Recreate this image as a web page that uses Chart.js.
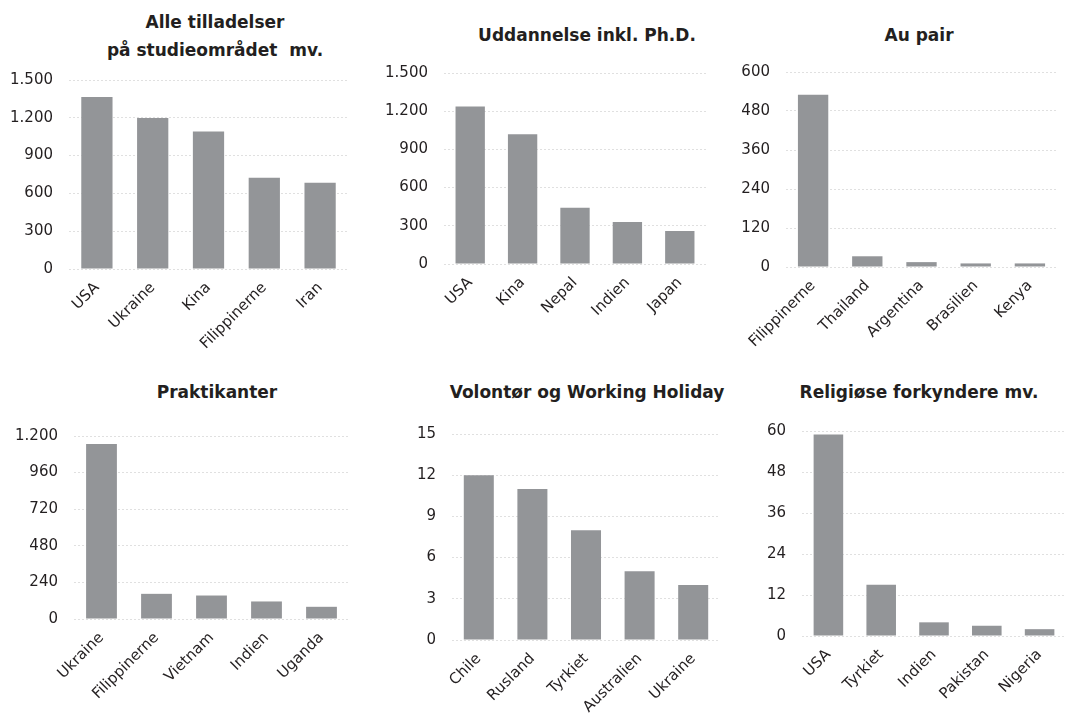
<!DOCTYPE html>
<html>
<head>
<meta charset="utf-8">
<script src="https://cdn.jsdelivr.net/npm/chart.js@4"></script>
<style>
  body { margin: 0; background: #fff; width: 1066px; height: 717px; position: relative; overflow: hidden; font-family: "DejaVu Sans", sans-serif; }
  canvas { position: absolute; }
  .title { position: absolute; text-align: center; font-weight: bold; font-size: 17px; line-height: 28px; color: #231f20; white-space: pre; }
</style>
</head>
<body>
<div class="title" style="left:0;top:8px;width:430px;">Alle tilladelser
på studieområdet  mv.</div>
<div class="title" style="left:437px;top:21px;width:300px;">Uddannelse inkl. Ph.D.</div>
<div class="title" style="left:769px;top:21px;width:300px;">Au pair</div>
<div class="title" style="left:67px;top:378px;width:300px;">Praktikanter</div>
<div class="title" style="left:437px;top:378px;width:300px;">Volontør og Working Holiday</div>
<div class="title" style="left:769px;top:378px;width:300px;">Religiøse forkyndere mv.</div>

<canvas id="c1" width="360" height="300" style="left:0;top:55px"></canvas>
<canvas id="c2" width="355" height="300" style="left:360px;top:48px"></canvas>
<canvas id="c3" width="351" height="300" style="left:715px;top:47px"></canvas>
<canvas id="c4" width="360" height="306" style="left:0;top:411px"></canvas>
<canvas id="c5" width="362" height="308" style="left:360px;top:409px"></canvas>
<canvas id="c6" width="341" height="311" style="left:725px;top:406px"></canvas>

<script>
// data
const alleLabels = ['USA', 'Ukraine', 'Kina', 'Filippinerne', 'Iran'];
const alleValues = [1365, 1198, 1091, 725, 685];

const uddLabels = ['USA', 'Kina', 'Nepal', 'Indien', 'Japan'];
const uddValues = [1237, 1018, 442, 330, 260];

const auPairLabels = ['Filippinerne', 'Thailand', 'Argentina', 'Brasilien', 'Kenya'];
const auPairValues = [530, 33, 15, 11, 11];

const praktLabels = ['Ukraine', 'Filippinerne', 'Vietnam', 'Indien', 'Uganda'];
const praktValues = [1148, 165, 154, 115, 80];

const volLabels = ['Chile', 'Rusland', 'Tyrkiet', 'Australien', 'Ukraine'];
const volValues = [12, 11, 8, 5, 4];

const relLabels = ['USA', 'Tyrkiet', 'Indien', 'Pakistan', 'Nigeria'];
const relValues = [59, 15, 4, 3, 2];

// y axis max and step per chart
const yMax = [1500, 1500, 600, 1200, 15, 60];
const yStep = [300, 300, 120, 240, 3, 12];

// plot area fitting inside each canvas: [yAxisWidth, padRight, xAxisHeight]
const fits = [
    [69, 12, 86],
    [84, 9, 84],
    [71, 9, 80],
    [74, 11, 98],
    [92, 2, 77],
    [77, 0, 81]
];

function fmt(v) {
    return String(v).replace(/\B(?=(\d{3})+(?!\d))/g, '.');
}

function makeChart(id, labels, values, i) {
    const [yw, pr, xh] = fits[i];
    new Chart(document.getElementById(id), {
        type: 'bar',
        data: {
            labels: labels,
            datasets: [{
                data: values,
                backgroundColor: '#939598',
                categoryPercentage: 1,
                barPercentage: 0.56
            }]
        },
        options: {
            responsive: false,
            animation: false,
            devicePixelRatio: 1,
            layout: { padding: { top: 4, right: pr, left: 0, bottom: 0 } },
            plugins: { legend: { display: false }, tooltip: { enabled: false }, title: { display: false } },
            scales: {
                x: {
                    grid: { display: false, drawTicks: false },
                    border: { display: false },
                    afterFit: s => { s.height = xh; },
                    ticks: {
                        minRotation: 45, maxRotation: 45, padding: 10,
                        color: '#231f20',
                        font: { family: 'DejaVu Sans', size: 15 }
                    }
                },
                y: {
                    min: 0, max: yMax[i],
                    grid: { color: '#e0e0e0', drawTicks: false, lineWidth: 1 },
                    border: { display: false, dash: [2, 2] },
                    afterFit: s => { s.width = yw; },
                    ticks: {
                        stepSize: yStep[i], padding: 16,
                        color: '#231f20',
                        font: { family: 'DejaVu Sans', size: 15 },
                        callback: v => fmt(v)
                    }
                }
            }
        }
    });
}

makeChart('c1', alleLabels, alleValues, 0);
makeChart('c2', uddLabels, uddValues, 1);
makeChart('c3', auPairLabels, auPairValues, 2);
makeChart('c4', praktLabels, praktValues, 3);
makeChart('c5', volLabels, volValues, 4);
makeChart('c6', relLabels, relValues, 5);
</script>
</body>
</html>
